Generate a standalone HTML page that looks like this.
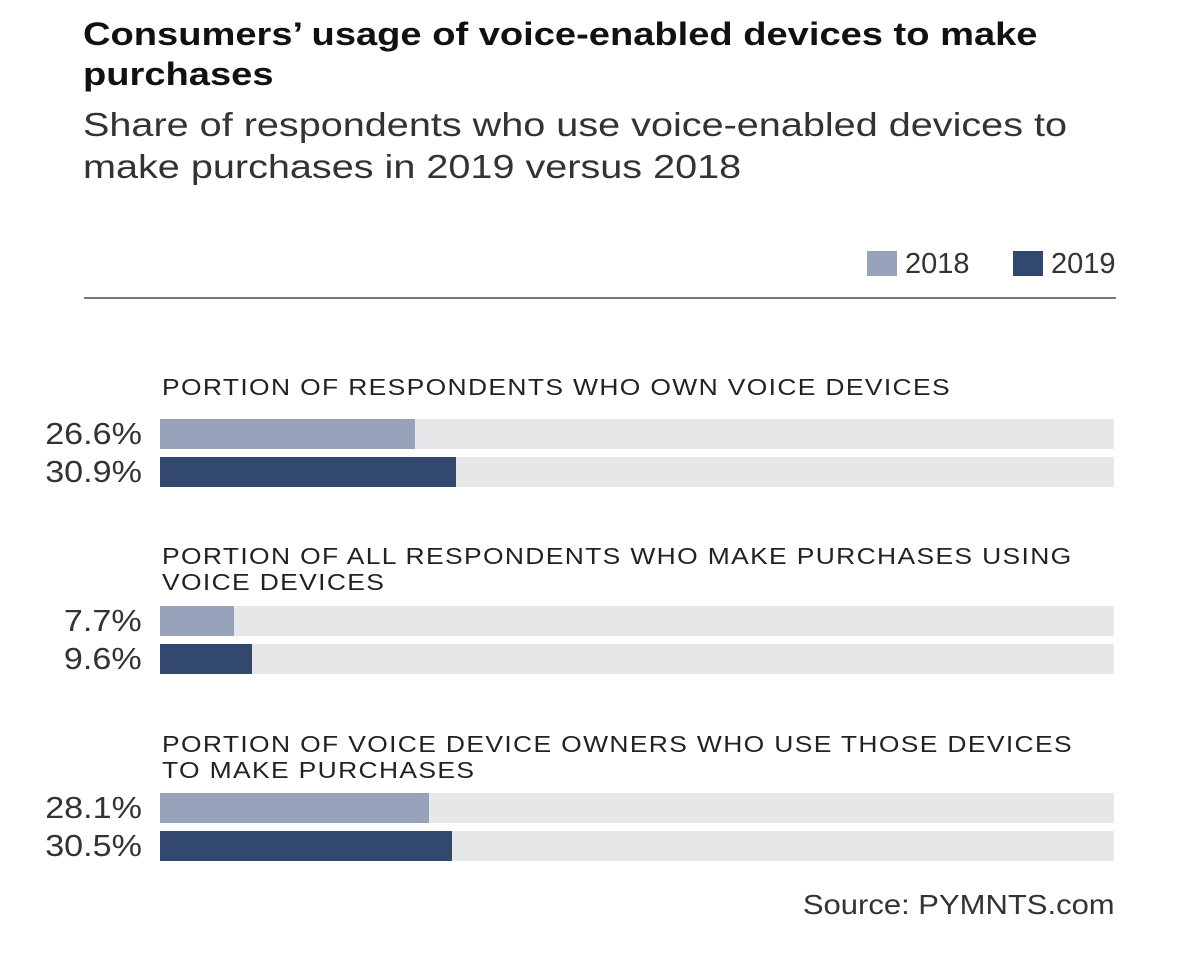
<!DOCTYPE html>
<html><head><meta charset="utf-8"><style>
body{margin:0;background:#fff;font-family:"Liberation Sans",sans-serif;}
#root{position:relative;width:1200px;height:967px;overflow:hidden;}
.t{position:absolute;white-space:nowrap;}
</style></head><body>
<div id="root">
<div class="t" style="left:83px;top:14px;font-size:32px;font-weight:bold;color:#111;line-height:40px;transform:scaleX(1.19);transform-origin:left top;">Consumers’ usage of voice-enabled devices to make<br>purchases</div>
<div class="t" style="left:83px;top:104px;font-size:33px;color:#333;line-height:42px;transform:scaleX(1.2);transform-origin:left top;">Share of respondents who use voice-enabled devices to<br>make purchases in 2019 versus 2018</div>
<div class="t" style="left:867px;top:248px;font-size:29px;color:#333;"><span style="display:inline-block;width:30px;height:25px;background:#97a3bb;vertical-align:-3px;margin-right:8px"></span>2018</div>
<div class="t" style="left:1013px;top:248px;font-size:29px;color:#333;"><span style="display:inline-block;width:30px;height:25px;background:#33486f;vertical-align:-3px;margin-right:8px"></span>2019</div>
<div style="position:absolute;left:84px;top:297px;width:1032px;height:2px;background:#777"></div>
<div class="t" style="right:85px;top:889px;font-size:28px;color:#333;transform:scaleX(1.107);transform-origin:right top;">Source: PYMNTS.com</div>
</div>
<script>
const categories=["PORTION OF RESPONDENTS WHO OWN VOICE DEVICES","PORTION OF ALL RESPONDENTS WHO MAKE PURCHASES USING<br>VOICE DEVICES","PORTION OF VOICE DEVICE OWNERS WHO USE THOSE DEVICES<br>TO MAKE PURCHASES"];
const values2018=[26.6,7.7,28.1];
const values2019=[30.9,9.6,30.5];
const labels2018=["26.6%","7.7%","28.1%"];
const labels2019=["30.9%","9.6%","30.5%"];
const root=document.getElementById('root');
const x0=160,trackW=954,scale=v=>v/100*trackW*1.005;
const groupTop=[374,543,731],barTop=[419,606,793];
for(let i=0;i<categories.length;i++){
  const c=document.createElement('div');c.className='t';
  
  
  c.style.cssText=`left:162px;top:${groupTop[i]}px;font-size:23.5px;letter-spacing:1.2px;color:#222;line-height:26px;transform:scaleX(1.125);transform-origin:left top;`;
  c.innerHTML=categories[i];root.appendChild(c);
  [[values2018,labels2018,'#97a3bb','2018',0],[values2019,labels2019,'#33486f','2019',38]].forEach(s=>{
    const y=barTop[i]+s[4];
    const tr=document.createElement('div');
    
    
    tr.style.cssText=`position:absolute;left:${x0}px;top:${y}px;width:${trackW}px;height:30px;background:#e6e7e9`;
    root.appendChild(tr);
    const b=document.createElement('div');
    
    
    b.style.cssText=`position:absolute;left:${x0}px;top:${y}px;width:${scale(s[0][i])}px;height:30px;background:${s[2]}`;
    root.appendChild(b);
    const l=document.createElement('div');l.className='t';
    
    
    l.style.cssText=`right:${1200-142}px;top:${y-3}px;font-size:31px;color:#333;line-height:36px;transform:scaleX(1.1);transform-origin:right top;`;
    l.textContent=s[1][i];root.appendChild(l);
  });
}
</script>
</body></html>
